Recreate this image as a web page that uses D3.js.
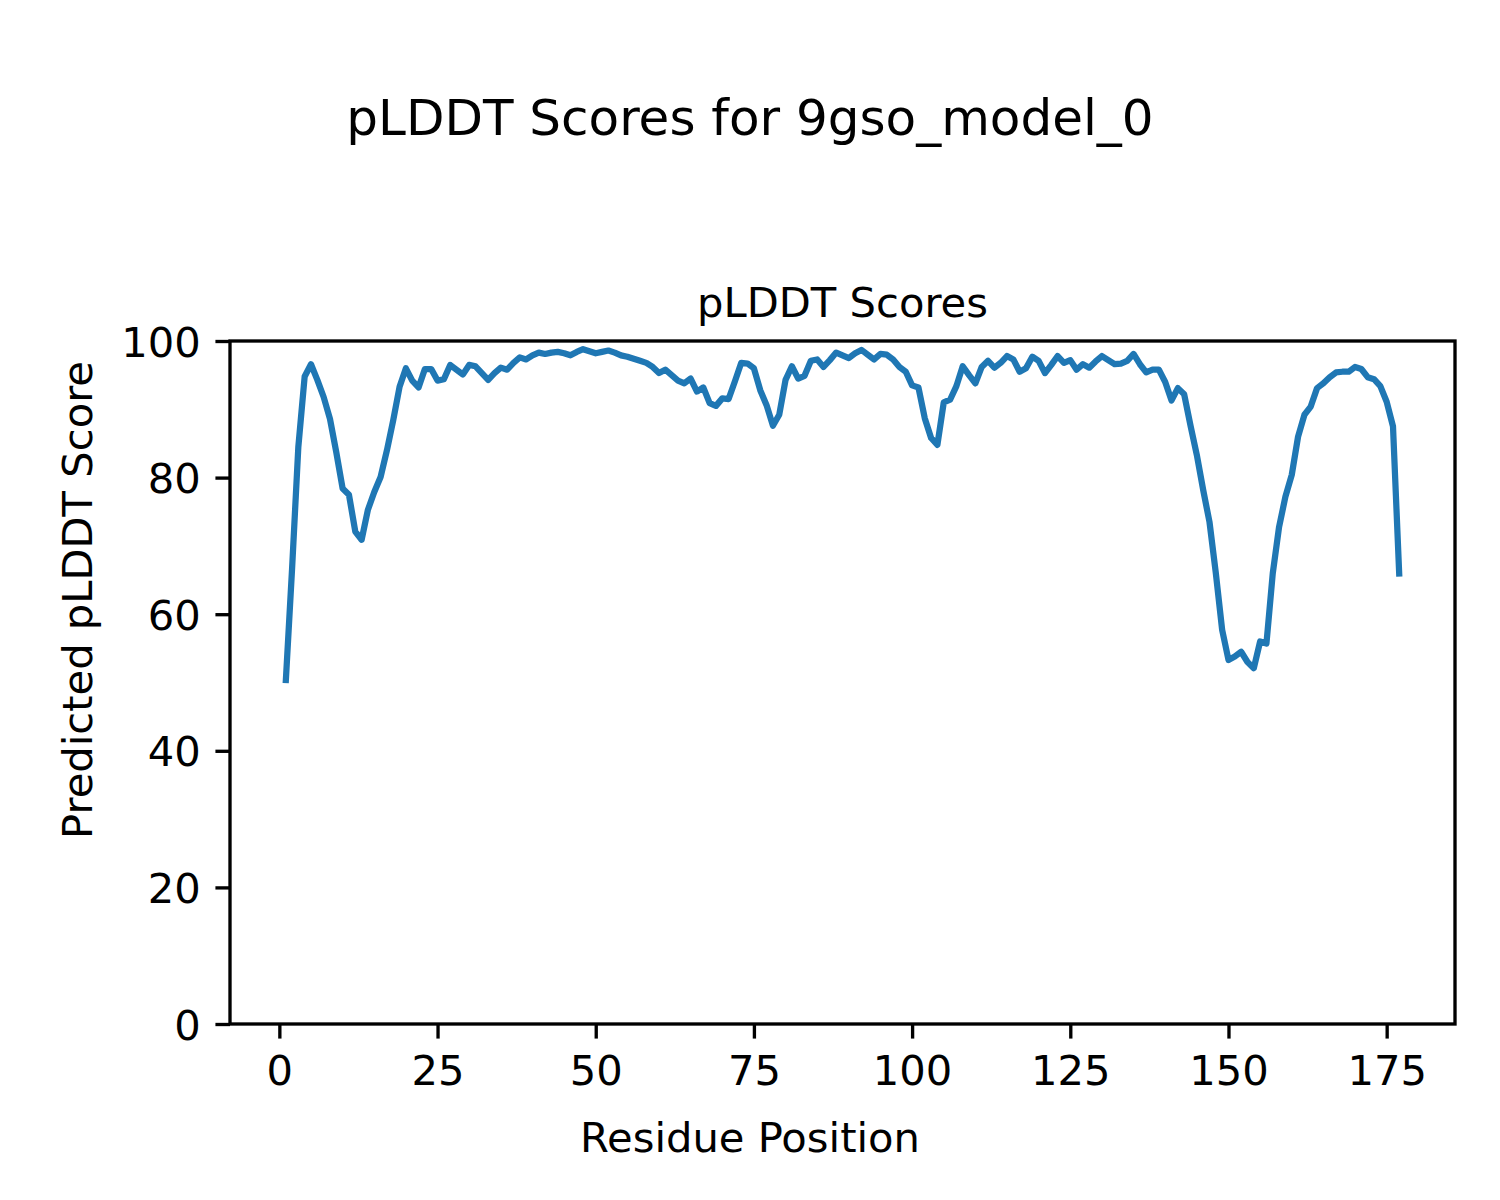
<!DOCTYPE html>
<html>
<head>
<meta charset="utf-8">
<script src="https://cdn.jsdelivr.net/npm/d3@7"></script>
<style>
  html, body { margin: 0; padding: 0; background: #ffffff; }
  svg { display: block; font-family: "DejaVu Sans", sans-serif; }
</style>
</head>
<body>
<div id="chart"></div>
<script>
// ---- data ----
const figureTitle = "pLDDT Scores for 9gso_model_0";
const axesTitle = "pLDDT Scores";
const xLabel = "Residue Position";
const yLabel = "Predicted pLDDT Score";
const xTicks = [0, 25, 50, 75, 100, 125, 150, 175];
const yTicks = [0, 20, 40, 60, 80, 100];
const plddt = [
  49.9, 66.5, 84.5, 94.8, 96.6, 94.3, 91.8, 88.6, 83.7, 78.4,
  77.5, 72.1, 70.9, 75.3, 77.9, 80.1, 84.0, 88.4, 93.3, 96.0,
  94.2, 93.2, 95.9, 95.9, 94.2, 94.4, 96.5, 95.8, 95.1, 96.5,
  96.3, 95.3, 94.3, 95.3, 96.1, 95.8, 96.8, 97.6, 97.3, 97.9,
  98.3, 98.1, 98.3, 98.4, 98.2, 97.9, 98.4, 98.8, 98.5, 98.2,
  98.4, 98.6, 98.3, 97.9, 97.7, 97.4, 97.1, 96.8, 96.2, 95.3,
  95.8, 95.0, 94.2, 93.8, 94.5, 92.6, 93.2, 90.9, 90.5, 91.6,
  91.5, 94.1, 96.8, 96.7, 96.0, 92.8, 90.6, 87.6, 89.2, 94.3,
  96.3, 94.5, 94.9, 97.1, 97.3, 96.2, 97.2, 98.3, 97.9, 97.5,
  98.2, 98.7, 98.0, 97.3, 98.1, 98.0, 97.3, 96.2, 95.5, 93.5,
  93.2, 88.7, 85.8, 84.8, 91.0, 91.4, 93.4, 96.3, 95.0, 93.8,
  96.2, 97.1, 96.1, 96.8, 97.8, 97.3, 95.5, 96.0, 97.7, 97.1,
  95.3, 96.5, 97.8, 96.8, 97.2, 95.8, 96.6, 96.1, 97.0, 97.8,
  97.2, 96.6, 96.7, 97.1, 98.1, 96.6, 95.4, 95.8, 95.8, 94.0,
  91.3, 93.1, 92.2, 87.6, 83.3, 78.2, 73.5, 66.0, 57.7, 53.3,
  53.8, 54.5, 53.0, 52.1, 56.0, 55.7, 66.0, 72.8, 77.2, 80.4,
  86.0, 89.2, 90.4, 93.1, 93.8, 94.7, 95.4, 95.5, 95.5, 96.2,
  95.9, 94.7, 94.4, 93.4, 91.1, 87.5, 65.5
];
const residues = plddt.map((_, i) => i + 1);

// ---- layout ----
const W = 1500, H = 1200;
const plot = { left: 230, right: 1455, top: 341, bottom: 1024 };
const pt = 300 / 72;

const svg = d3.select("#chart").append("svg")
  .attr("width", W).attr("height", H);

svg.append("rect").attr("width", W).attr("height", H).attr("fill", "#ffffff");

const n = residues.length;
const xMin = d3.min(residues), xMax = d3.max(residues);
const pad = 0.05 * (xMax - xMin);
const x = d3.scaleLinear().domain([xMin - pad, xMax + pad]).range([plot.left, plot.right]);
const y = d3.scaleLinear().domain([0, 100]).range([plot.bottom, plot.top]);

const tickLen = 3.5 * pt, tickPad = 3.5 * pt, spineW = 0.8 * pt;
const fontSmall = 10 * pt, fontLarge = 12 * pt;

// line
const line = d3.line().x((d, i) => x(residues[i])).y(d => y(d));
svg.append("path")
  .datum(plddt)
  .attr("d", line)
  .attr("fill", "none")
  .attr("stroke", "#1f77b4")
  .attr("stroke-width", 1.5 * pt)
  .attr("stroke-linejoin", "round")
  .attr("stroke-linecap", "butt");

// axes
const xAxis = d3.axisBottom(x).tickValues(xTicks).tickSizeOuter(0)
  .tickSizeInner(tickLen).tickPadding(tickPad).tickFormat(d3.format("d"));
const yAxis = d3.axisLeft(y).tickValues(yTicks).tickSizeOuter(0)
  .tickSizeInner(tickLen).tickPadding(tickPad).tickFormat(d3.format("d"));

const gx = svg.append("g").attr("transform", `translate(0,${plot.bottom})`).call(xAxis);
const gy = svg.append("g").attr("transform", `translate(${plot.left},0)`).call(yAxis);
[gx, gy].forEach(g => {
  g.select(".domain").remove();
  g.selectAll(".tick line").attr("stroke", "#000").attr("stroke-width", spineW);
  g.selectAll(".tick text").attr("fill", "#000")
    .style("font-family", "DejaVu Sans").style("font-size", fontSmall + "px");
});
gx.selectAll(".tick text").attr("dy", "0.76em");
gy.selectAll(".tick text").attr("dy", "0.36em");

// spines
svg.append("rect")
  .attr("x", plot.left).attr("y", plot.top)
  .attr("width", plot.right - plot.left).attr("height", plot.bottom - plot.top)
  .attr("fill", "none").attr("stroke", "#000").attr("stroke-width", spineW);

// titles & labels
svg.append("text").attr("x", W / 2).attr("y", 135)
  .attr("text-anchor", "middle").style("font-size", fontLarge + "px")
  .attr("fill", "#000").text(figureTitle);

svg.append("text").attr("x", (plot.left + plot.right) / 2).attr("y", 317)
  .attr("text-anchor", "middle").style("font-size", fontSmall + "px")
  .attr("fill", "#000").text(axesTitle);

svg.append("text").attr("x", W / 2).attr("y", 1152)
  .attr("text-anchor", "middle").style("font-size", fontSmall + "px")
  .attr("fill", "#000").text(xLabel);

svg.append("text").attr("transform", `translate(92,${H / 2}) rotate(-90)`)
  .attr("text-anchor", "middle").style("font-size", fontSmall + "px")
  .attr("fill", "#000").text(yLabel);
</script>
</body>
</html>
